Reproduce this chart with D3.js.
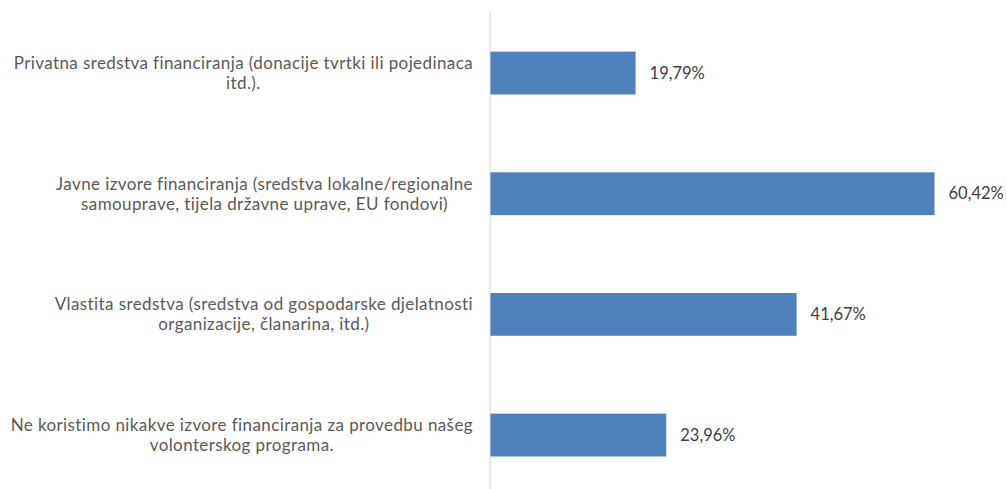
<!DOCTYPE html>
<html>
<head>
<meta charset="utf-8">
<title>Izvori financiranja</title>
<script src="https://cdn.jsdelivr.net/npm/d3@7"></script>
<style>
  body { margin: 0; background: #fff; }
  svg text { font-family: Lato, "Open Sans", sans-serif; }
</style>
</head>
<body>
<div id="chart"></div>
<script>
var categories = [
  ["Privatna sredstva financiranja (donacije tvrtki ili pojedinaca", "itd.)."],
  ["Javne izvore financiranja (sredstva lokalne/regionalne", "samouprave, tijela državne uprave, EU fondovi)"],
  ["Vlastita sredstva (sredstva od gospodarske djelatnosti", "organizacije, članarina, itd.)"],
  ["Ne koristimo nikakve izvore financiranja za provedbu našeg", "volonterskog programa."]
];
var values = [19.79, 60.42, 41.67, 23.96];
var valueLabels = ["19,79%", "60,42%", "41,67%", "23,96%"];

var width = 1007, height = 489;

var svg = d3.select("#chart").append("svg")
    .attr("width", width)
    .attr("height", height);

var x = d3.scaleLinear().domain([0, 70]).range([490, 1005]);
var y = d3.scaleBand()
    .domain(d3.range(values.length))
    .range([12.7, 495.4])
    .paddingInner(0.645)
    .paddingOuter(0.3225);

// bars
svg.selectAll(".bar")
    .data(values)
    .enter().append("rect")
    .attr("class", "bar")
    .attr("x", x(0))
    .attr("y", function(d, i) { return y(i); })
    .attr("width", function(d) { return x(d) - x(0); })
    .attr("height", y.bandwidth())
    .attr("fill", "#4f81bd");

// vertical axis line
svg.append("line")
    .attr("x1", x(0)).attr("x2", x(0))
    .attr("y1", 12).attr("y2", height)
    .attr("stroke", "#d9d9d9")
    .attr("stroke-width", 1);

// value labels
svg.selectAll(".val")
    .data(values)
    .enter().append("text")
    .attr("class", "val")
    .attr("x", function(d) { return x(d) + 14; })
    .attr("y", function(d, i) { return y(i) + y.bandwidth() / 2; })
    .attr("dy", "0.35em")
    .attr("font-size", 16.5)
    .attr("fill", "#404040")
    .text(function(d, i) { return valueLabels[i]; });

// category labels, centred block ending at the axis
var rightEdge = 473;
var cat = svg.selectAll(".cat")
    .data(categories)
    .enter().append("text")
    .attr("class", "cat")
    .attr("font-size", 17)
    .attr("letter-spacing", 0.4)
    .attr("fill", "#595959")
    .attr("text-anchor", "middle");

cat.each(function(lines, i) {
  var t = d3.select(this);
  var cy = y(i) + y.bandwidth() / 2;
  var maxW = 0;
  lines.forEach(function(line, j) {
    var ts = t.append("tspan")
      .attr("x", 0)
      .attr("y", cy + (j - (lines.length - 1) / 2) * 20)
      .attr("dy", "0.35em")
      .text(line);
    maxW = Math.max(maxW, ts.node().getComputedTextLength());
  });
  t.selectAll("tspan").attr("x", rightEdge - maxW / 2);
});
</script>
</body>
</html>
